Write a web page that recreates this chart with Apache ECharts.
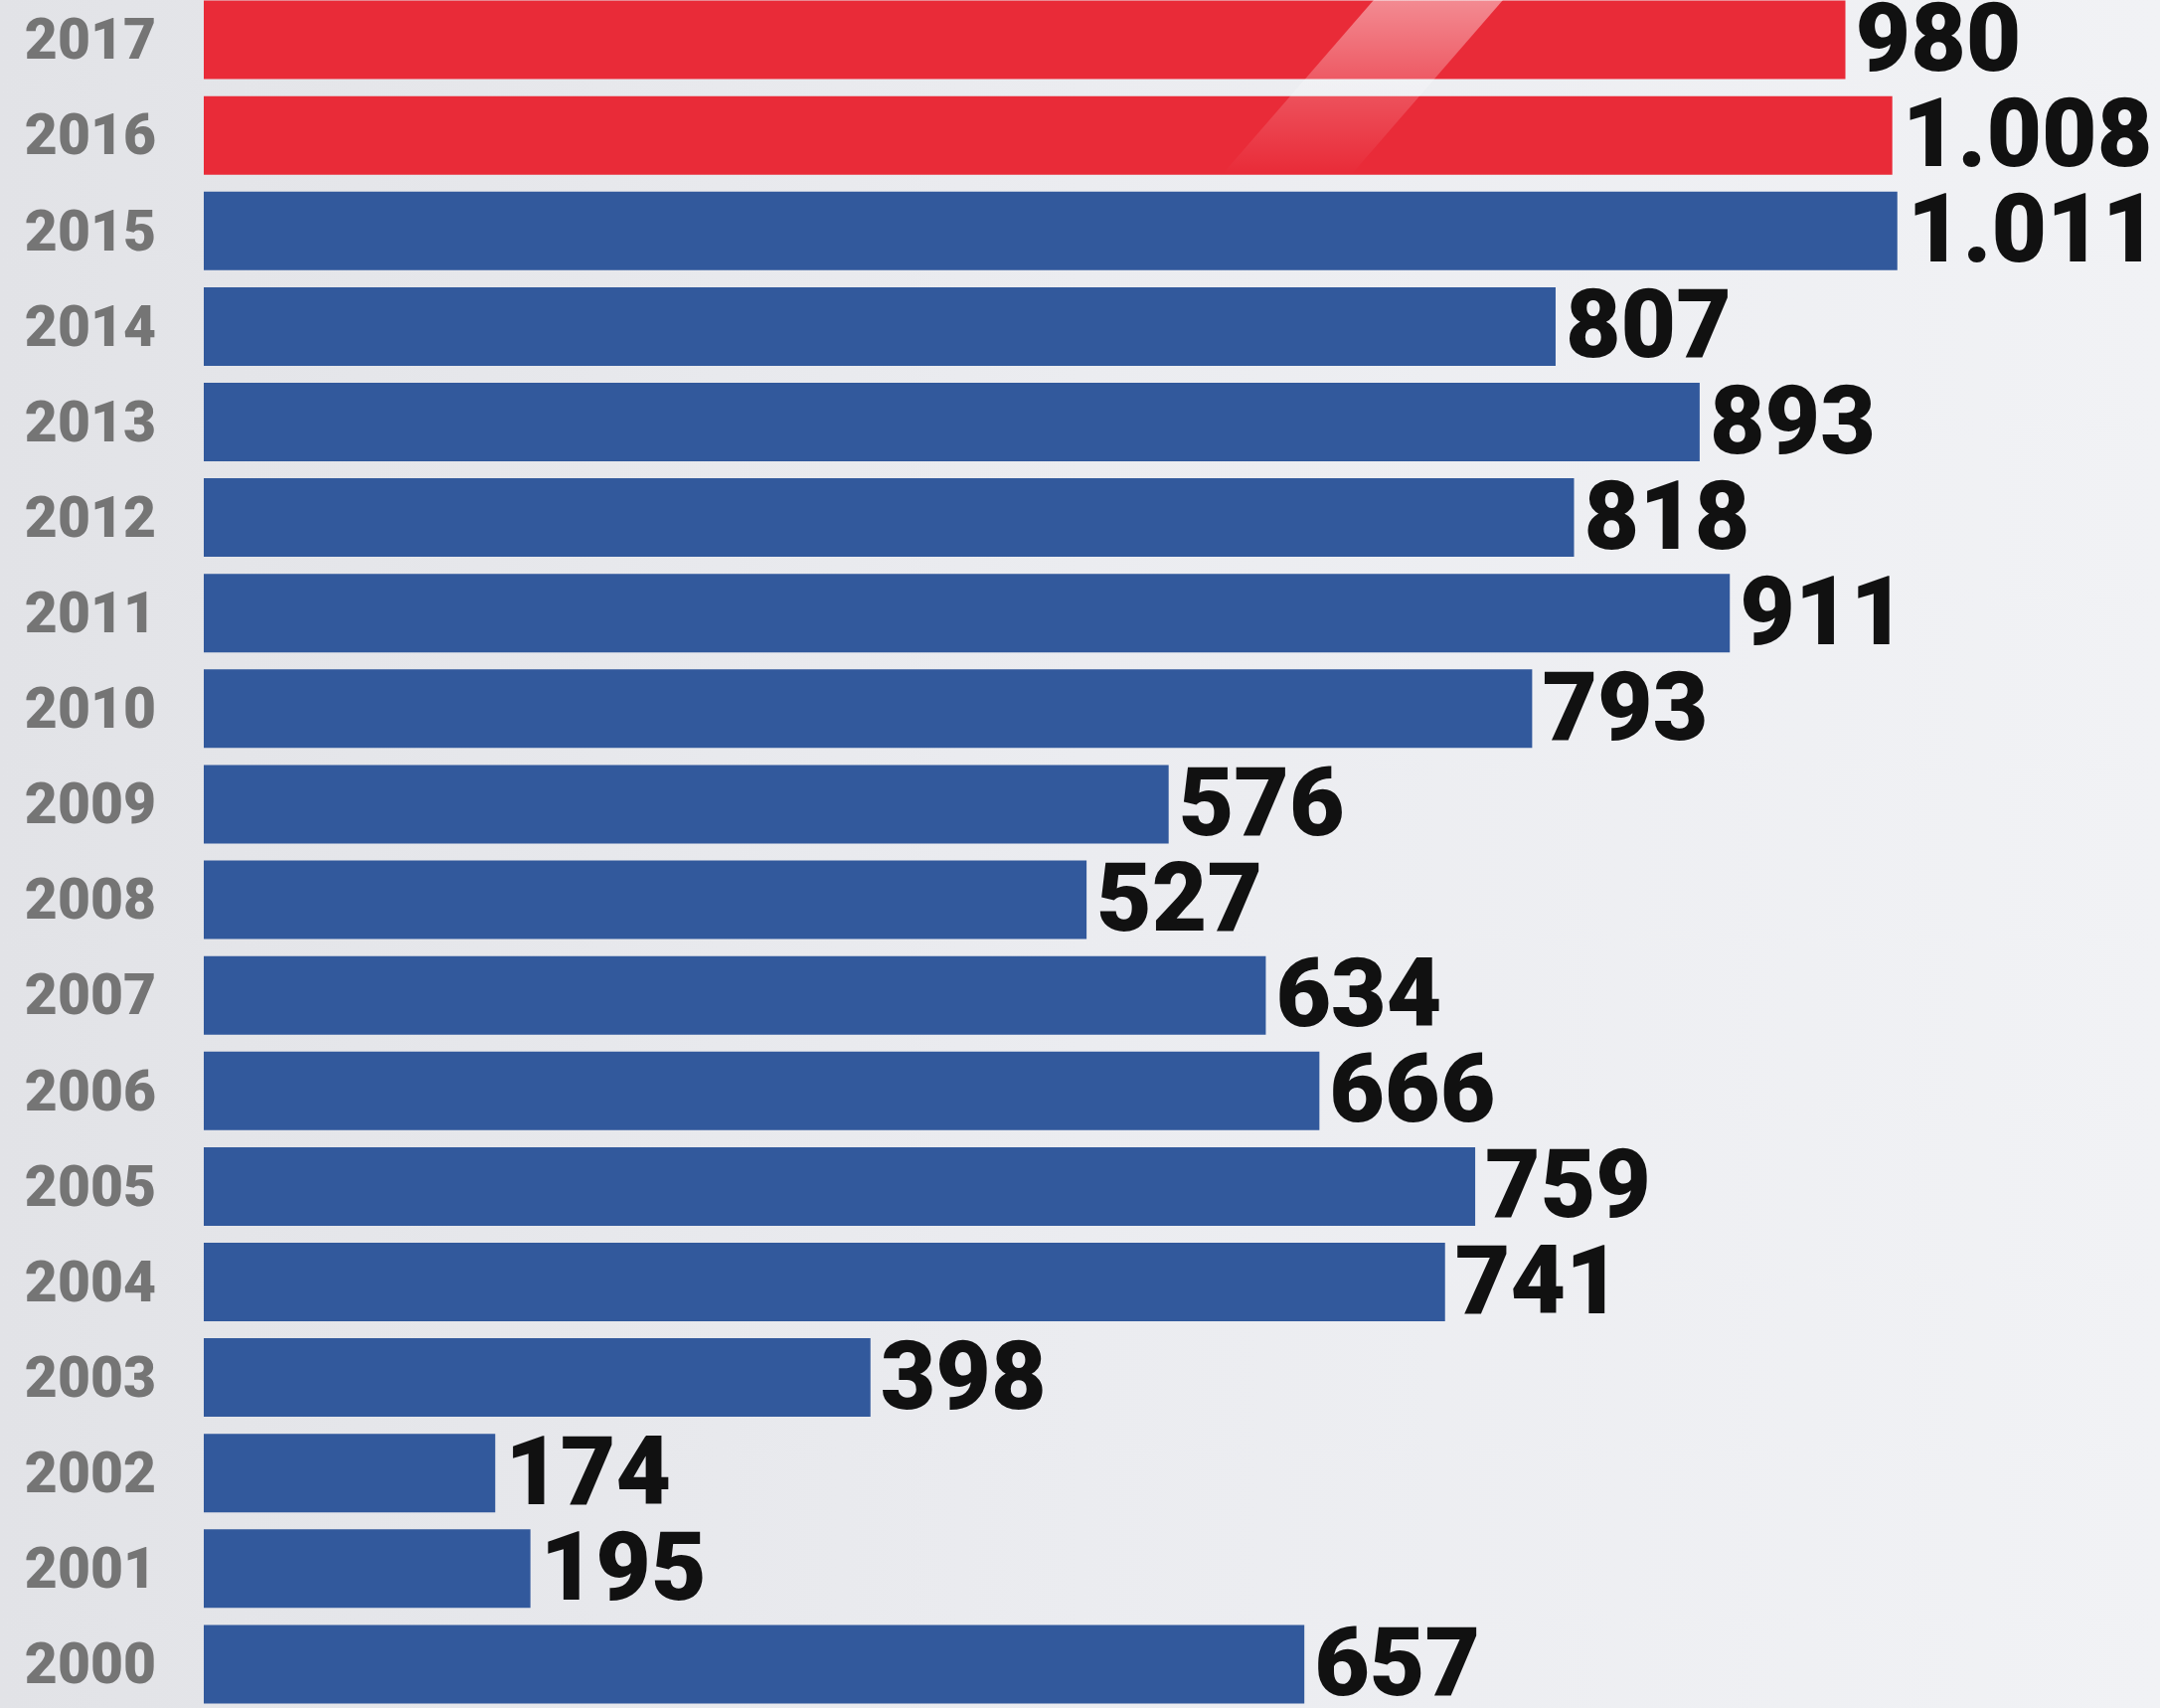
<!DOCTYPE html>
<html>
<head>
<meta charset="utf-8">
<script src="https://cdn.jsdelivr.net/npm/echarts@6/dist/echarts.min.js"></script>
<style>
    html, body { margin: 0; padding: 0; }
    #chart { width: 2173px; height: 1718px; }
</style>
</head>
<body>
<div id="chart"></div>
<script>
// years bottom -> top
const years = ['2000', '2001', '2002', '2003', '2004', '2005', '2006', '2007', '2008',
    '2009', '2010', '2011', '2012', '2013', '2014', '2015', '2016', '2017'];
const values = [657, 195, 174, 398, 741, 759, 666, 634, 527,
    576, 793, 911, 818, 893, 807, 1011, 1008, 980];
const redYears = ['2016', '2017'];

const BLUE = '#32599c';
const RED = '#e92b38';

function fmt(v) {
    // dot as thousands separator
    let s = String(v);
    return s.replace(/\B(?=(\d{3})+(?!\d))/g, '.');
}

let myChart = echarts.init(document.getElementById('chart'));

let opt = {
    backgroundColor: {
        type: 'linear', x: 0, y: 0, x2: 1, y2: 0,
        colorStops: [
            { offset: 0, color: '#e2e3e7' },
            { offset: 0.5, color: '#ebecf0' },
            { offset: 1, color: '#f1f2f5' }
        ]
    },
    animation: false,
    grid: {
        left: 205,
        top: -8,
        width: 1938,
        height: 1730,
        outerBoundsMode: 'none',
        containLabel: false
    },
    xAxis: {
        type: 'value',
        min: 0,
        max: 1150,
        show: false
    },
    yAxis: {
        type: 'category',
        data: years,
        axisLine: { show: false },
        axisTick: { show: false },
        axisLabel: {
            margin: 48,
            formatter: '{y|{value}}',
            rich: {
                y: {
                    color: '#757575',
                    fontFamily: 'Roboto',
                    fontWeight: 900,
                    fontSize: 57,
                    padding: [10, 0, 0, 0]
                }
            }
        }
    },
    series: [{
        type: 'bar',
        data: values,
        barWidth: 79,
        itemStyle: {
            color: (p) => redYears.indexOf(p.name) >= 0 ? RED : BLUE
        },
        label: {
            show: true,
            position: 'right',
            distance: 10,
            offset: [0, 7],
            color: '#111',
            fontFamily: 'Roboto',
            fontWeight: 900,
            fontSize: 96,
            formatter: (p) => fmt(p.value)
        }
    }],
    // glossy stripe over the red bars
    graphic: [{
        type: 'polygon',
        z: 100,
        silent: true,
        shape: {
            points: [[1382, 0], [1512, 0], [1360, 175], [1230, 175]]
        },
        style: {
            fill: {
                type: 'linear', x: 0, y: 0, x2: 0, y2: 1,
                colorStops: [
                    { offset: 0, color: 'rgba(255,255,255,0.45)' },
                    { offset: 0.5, color: 'rgba(255,255,255,0.2)' },
                    { offset: 1, color: 'rgba(255,255,255,0)' }
                ]
            }
        }
    }]
};

myChart.setOption(opt);
</script>
</body>
</html>
